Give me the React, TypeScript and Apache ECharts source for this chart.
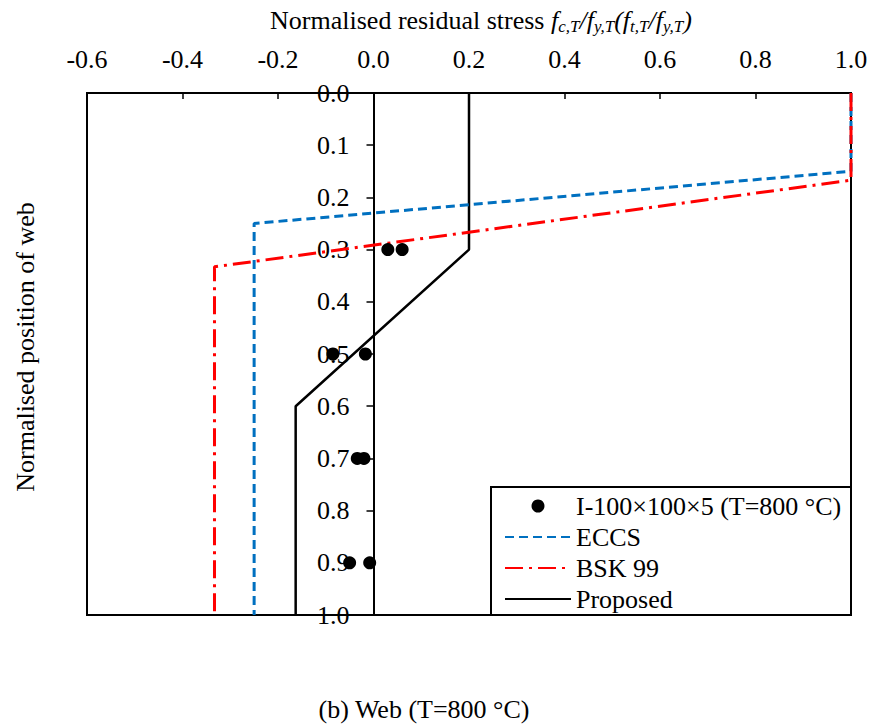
import React, { useEffect, useRef } from 'react';
import * as echarts from 'echarts';

const FONT = "'Liberation Serif', 'Times New Roman', Times, serif";

const seriesNames = ['I-100×100×5 (T=800 °C)', 'ECCS', 'BSK 99', 'Proposed'];

// Test data (normalised stress, normalised web position)
const testX = [0.03, 0.06, -0.085, -0.017, -0.034, -0.02, -0.05, -0.008];
const testY = [0.3, 0.3, 0.5, 0.5, 0.7, 0.7, 0.9, 0.9];

// ECCS model
const eccsX = [1.0, 1.0, -0.25, -0.25];
const eccsY = [0, 0.15, 0.25, 1.0];

// BSK 99 model
const bskX = [1.0, 1.0, -0.333, -0.333];
const bskY = [0, 0.167, 0.333, 1.0];

// Proposed model
const propX = [0.2, 0.2, -0.163, -0.163];
const propY = [0, 0.3, 0.6, 1.0];

const xMin = -0.6;
const xMax = 1.0;
const xStep = 0.2;
const yMin = 0;
const yMax = 1.0;
const yStep = 0.1;

const pairs = (xs: number[], ys: number[]) => xs.map((x, i) => [x, ys[i]]);

export default function App() {
  const ref = useRef<HTMLDivElement>(null);
  useEffect(() => {
    if (!ref.current) return;
    const chart = echarts.init(ref.current, null, { renderer: 'svg' });
    const gridLeft = 87;
    const gridRight = 20;
    const plotW = 871 - gridLeft - gridRight;
    const yAxisOffset = -((0 - xMin) / (xMax - xMin)) * plotW;
    const option: any = {
      animation: false,
      backgroundColor: '#fff',
      textStyle: { fontFamily: FONT },
      grid: {
        left: gridLeft,
        right: gridRight,
        top: 93,
        bottom: 109,
        show: true,
        borderColor: '#000',
        borderWidth: 2,
        backgroundColor: 'transparent',
      },
      xAxis: {
        type: 'value',
        position: 'top',
        min: xMin,
        max: xMax,
        interval: xStep,
        axisLine: { show: true, lineStyle: { color: '#000', width: 2 } },
        axisTick: { show: true, inside: true, length: 6, lineStyle: { color: '#000', width: 1.5 } },
        splitLine: { show: false },
        axisLabel: {
          show: true,
          margin: 21,
          color: '#000',
          fontSize: 26,
          fontFamily: FONT,
          formatter: (v: number) => v.toFixed(1),
        },
      },
      yAxis: {
        type: 'value',
        position: 'left',
        offset: yAxisOffset,
        inverse: true,
        min: yMin,
        max: yMax,
        interval: yStep,
        axisLine: { show: true, onZero: false, lineStyle: { color: '#000', width: 2 } },
        axisTick: { show: true, inside: false, length: 7, lineStyle: { color: '#000', width: 1.5 } },
        splitLine: { show: false },
        axisLabel: {
          show: true,
          margin: 24,
          color: '#000',
          fontSize: 26,
          fontFamily: FONT,
          showMinLabel: true,
          showMaxLabel: true,
          formatter: (v: number) => v.toFixed(1),
        },
      },
      legend: {
        orient: 'vertical',
        left: 499,
        top: 488,
        itemWidth: 66,
        itemHeight: 13,
        itemGap: 5,
        data: [
          { name: seriesNames[0], itemStyle: { opacity: 1 } },
          { name: seriesNames[1], itemStyle: { opacity: 0 } },
          { name: seriesNames[2], itemStyle: { opacity: 0 } },
          { name: seriesNames[3], itemStyle: { opacity: 0 } },
        ],
        textStyle: { color: '#000', fontSize: 26, lineHeight: 26, fontFamily: FONT },
      },
      graphic: [
        {
          type: 'rect',
          shape: { x: 491, y: 487, width: 360, height: 128 },
          style: { fill: '#fff', stroke: '#000', lineWidth: 2 },
          z: 1,
        },
        {
          type: 'text',
          x: 481,
          y: 20,
          style: {
            text:
              'Normalised residual stress {i|f}{s|c,T}{n|/}{i|f}{s|y,T}{n|(}{i|f}{s|t,T}{n|/}{i|f}{s|y,T}{n|)}',
            fontSize: 26,
            fontFamily: FONT,
            fill: '#000',
            align: 'center',
            verticalAlign: 'middle',
            lineHeight: 30,
            rich: {
              i: { fontStyle: 'italic', fontSize: 26, fontFamily: FONT, fill: '#000', lineHeight: 30 },
              n: { fontSize: 26, fontFamily: FONT, fill: '#000', lineHeight: 30, fontStyle: 'italic' },
              s: {
                fontStyle: 'italic',
                fontSize: 17,
                fontFamily: FONT,
                fill: '#000',
                lineHeight: 17,
                verticalAlign: 'bottom',
              },
            },
          },
        },
        {
          type: 'text',
          x: 25,
          y: 347,
          rotation: Math.PI / 2,
          style: {
            text: 'Normalised position of web',
            fontSize: 26,
            fontFamily: FONT,
            fill: '#000',
            align: 'center',
            verticalAlign: 'middle',
          },
        },
        {
          type: 'text',
          x: 424,
          y: 709,
          style: {
            text: '(b) Web (T=800 °C)',
            fontSize: 26,
            fontFamily: FONT,
            fill: '#000',
            align: 'center',
            verticalAlign: 'middle',
          },
        },
      ],
      series: [
        {
          name: seriesNames[0],
          type: 'scatter',
          symbol: 'circle',
          symbolSize: 13,
          itemStyle: { color: '#000', opacity: 1 },
          data: pairs(testX, testY),
          z: 6,
        },
        {
          name: seriesNames[1],
          type: 'line',
          symbol: 'none',
          clip: false,
          lineStyle: { color: '#0070C0', width: 3, type: [9, 5] },
          itemStyle: { color: '#0070C0' },
          data: pairs(eccsX, eccsY),
          z: 4,
        },
        {
          name: seriesNames[2],
          type: 'line',
          symbol: 'none',
          clip: false,
          lineStyle: { color: '#FF0000', width: 3, type: [18, 6, 3, 6] },
          itemStyle: { color: '#FF0000' },
          data: pairs(bskX, bskY),
          z: 5,
        },
        {
          name: seriesNames[3],
          type: 'line',
          symbol: 'none',
          clip: false,
          lineStyle: { color: '#000', width: 2.5, type: 'solid' },
          itemStyle: { color: '#000' },
          data: pairs(propX, propY),
          z: 3,
        },
      ],
    };
    chart.setOption(option);
    return () => chart.dispose();
  }, []);
  return (
    <div
      ref={ref}
      style={{ position: 'fixed', left: 0, top: 0, width: 871, height: 724, background: '#fff' }}
    />
  );
}
